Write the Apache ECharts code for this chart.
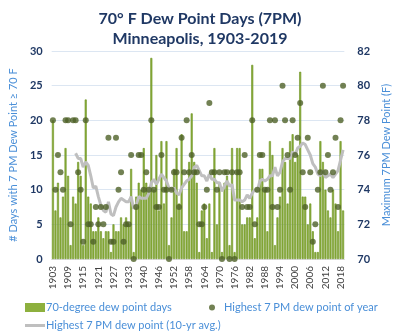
<!DOCTYPE html>
<html>
<head>
<meta charset="utf-8">
<script src="https://cdn.jsdelivr.net/npm/echarts@6/dist/echarts.min.js"></script>
<style>
  html, body { margin: 0; padding: 0; background: #fff; }
  #chart { width: 400px; height: 333px; }
</style>
</head>
<body>
<div id="chart"></div>
<script>
// years on the x axis (one year between 1933 and 1940 is missing in the source)
const years = [];
for (let y = 1903; y <= 2019; y++) {
  if (y !== 1936) years.push(String(y));
}

// number of days with 7 PM dew point >= 70 F
const dewDays = [
  20, 7, 11, 6, 9, 16, 12, 2, 9, 8,
  14, 12, 2, 23, 9, 8, 4, 4, 6, 4,
  3, 4, 4, 1, 5, 4, 4, 6, 5, 6,
  5, 13, 1, 9, 11, 10, 16, 11, 10, 29,
  10, 15, 7, 17, 8, 17, 2, 6, 13, 16,
  8, 18, 4, 4, 14, 21, 14, 11, 1, 7,
  8, 3, 8, 1, 16, 5, 11, 1, 11, 12,
  2, 16, 1, 16, 16, 5, 5, 6, 6, 28,
  3, 6, 13, 13, 10, 4, 17, 15, 2, 6,
  9, 16, 14, 8, 17, 18, 14, 15, 27, 9,
  9, 5, 8, 4, 1, 1, 17, 14, 10, 7,
  6, 10, 8, 4, 17, 7
];

// highest 7 PM dew point of each year (F)
const maxDew = [
  78, 74, 76, 75, 74, 78, 78, 72, 78, 78,
  75, 74, 71, 78, 72, 72, 71, 73, 72, 73,
  72, 73, 77, 71, 71, 77, 74, 75, 71, 72,
  72, 76, 70, 73, 76, 76, 74, 75, 74, 78,
  74, 73, 73, 76, 74, 74, 70, 74, 75, 75,
  73, 77, 75, 78, 75, 76, 75, 75, 72, 72,
  73, 74, 79, 75, 75, 74, 75, 70, 75, 75,
  70, 75, 70, 75, 75, 73, 76, 73, 73, 78,
  72, 74, 76, 76, 74, 74, 78, 73, 78, 73,
  74, 80, 78, 76, 74, 78, 76, 77, 79, 75,
  73, 77, 75, 71, 72, 74, 75, 80, 75, 76,
  74, 75, 77, 73, 78, 80
];

// 10-yr average of the highest dew point
const avgDew = [
  null, null, null, null, null, null, null, null, null, 76.1,
  75.8, 75.8, 75.3, 75.6, 75.4, 74.8, 74.1, 74.2, 73.6, 73.1,
  72.8, 72.7, 73.3, 72.6, 72.5, 73.0, 73.3, 73.5, 73.4, 73.3,
  73.3, 73.6, 72.9, 73.1, 73.6, 73.5, 73.5, 73.5, 73.8, 74.4,
  74.6, 74.3, 74.6, 74.9, 74.7, 74.5, 74.1, 74.0, 74.1, 73.8,
  73.7, 74.1, 74.3, 74.5, 74.6, 74.8, 75.3, 75.4, 75.1, 74.8,
  74.8, 74.5, 74.9, 74.6, 74.6, 74.4, 74.4, 73.9, 74.2, 74.5,
  74.2, 74.3, 73.4, 73.4, 73.4, 73.3, 73.4, 73.7, 73.5, 73.8,
  74.0, 73.9, 74.5, 74.6, 74.5, 74.6, 74.8, 74.8, 75.3, 74.8,
  75.0, 75.6, 75.8, 75.8, 75.8, 76.2, 76.0, 76.4, 76.5, 76.7,
  76.6, 76.3, 76.0, 75.5, 75.3, 74.9, 74.8, 75.1, 74.7, 74.8,
  74.9, 74.7, 74.9, 75.1, 75.7, 76.3
];

const navy = '#1f3864';
const blue = '#4a8fd8';
const font = 'Lato';

const myChart = echarts.init(document.getElementById('chart'), null, { renderer: 'canvas' });

const option = {
  animation: false,
  textStyle: { fontFamily: font },
  title: {
    text: '70° F Dew Point Days (7PM)\nMinneapolis, 1903-2019',
    left: 'center',
    top: 4,
    textStyle: {
      color: navy,
      fontSize: 16,
      fontWeight: 'bold',
      lineHeight: 20,
      fontFamily: font
    }
  },
  legend: [
    {
      left: 20,
      top: 297,
      itemWidth: 20,
      itemHeight: 9,
      itemGap: 4,
      textStyle: { color: blue, fontSize: 11, padding: [0, 0, 0, -4] },
      data: [{ name: '70-degree dew point days', icon: 'rect', itemStyle: { borderWidth: 0 } }]
    },
    {
      left: 204,
      top: 297,
      itemWidth: 6,
      itemHeight: 6,
      textStyle: { color: blue, fontSize: 11, padding: [0, 0, 0, 4] },
      data: [{ name: 'Highest 7 PM dew point of year', icon: 'circle' }]
    },
    {
      left: 20,
      top: 315,
      itemWidth: 20,
      itemHeight: 3,
      textStyle: { color: blue, fontSize: 11, padding: [0, 0, 0, -4] },
      data: [{ name: 'Highest 7 PM dew point (10-yr avg.)', icon: 'rect' }]
    }
  ],
  grid: {
    top: 51,
    left: 43,
    right: 48,
    bottom: 74
  },
  xAxis: {
    type: 'category',
    data: years,
    boundaryGap: true,
    axisTick: { show: false },
    axisLine: { lineStyle: { color: '#d9d9d9' } },
    axisLabel: {
      interval: 5,
      rotate: 90,
      fontSize: 10,
      color: '#404040',
      margin: 7
    }
  },
  yAxis: [
    {
      type: 'value',
      min: 0,
      max: 30,
      interval: 5,
      name: '# Days with 7 PM Dew Point \u2265 70 F',
      nameLocation: 'middle',
      nameGap: 32,
      nameTextStyle: { color: blue, fontSize: 11 },
      axisLine: { show: false },
      axisTick: { show: false },
      axisLabel: { color: navy, fontWeight: 'bold', fontSize: 11, margin: 9 },
      splitLine: { lineStyle: { color: '#dce6f2' } }
    },
    {
      type: 'value',
      min: 70,
      max: 82,
      interval: 2,
      name: 'Maximum 7PM Dew Point (F)',
      nameLocation: 'middle',
      nameGap: 33,
      nameTextStyle: { color: blue, fontSize: 11 },
      axisLine: { show: false },
      axisTick: { show: false },
      axisLabel: { color: navy, fontWeight: 'bold', fontSize: 11, margin: 13 },
      splitLine: { show: false }
    }
  ],
  series: [
    {
      name: '70-degree dew point days',
      type: 'bar',
      data: dewDays,
      barWidth: '80%',
      itemStyle: {
        color: '#8db03e',
        borderColor: '#6a901e',
        borderWidth: 0.6
      }
    },
    {
      name: 'Highest 7 PM dew point (10-yr avg.)',
      type: 'line',
      yAxisIndex: 1,
      data: avgDew,
      showSymbol: false,
      lineStyle: { color: '#bfbfbf', width: 3 },
      itemStyle: { color: '#bfbfbf' }
    },
    {
      name: 'Highest 7 PM dew point of year',
      type: 'scatter',
      yAxisIndex: 1,
      data: maxDew,
      symbolSize: 6,
      itemStyle: { color: '#4f6228' },
      z: 5
    }
  ]
};

myChart.setOption(option);
</script>
</body>
</html>
